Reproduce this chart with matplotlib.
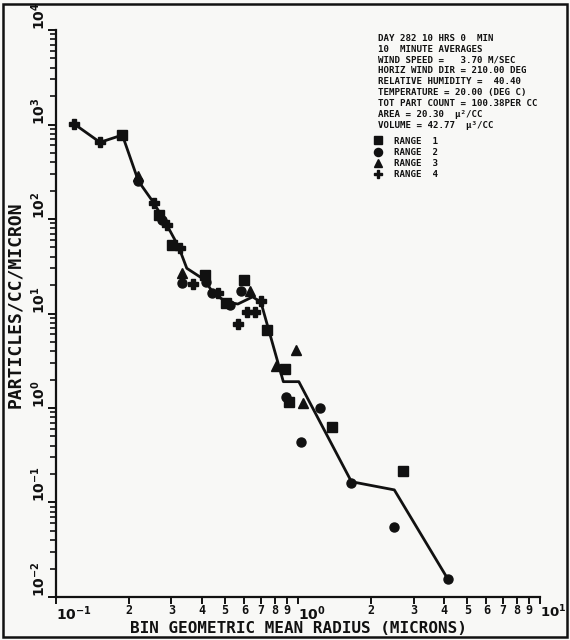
import matplotlib
matplotlib.use("Agg")
import matplotlib.pyplot as plt
from matplotlib.patches import Rectangle
from matplotlib.ticker import FixedLocator, FixedFormatter

# averaged size distribution (solid curve)
line_r = [0.119, 0.152, 0.188, 0.219, 0.254, 0.287, 0.321, 0.347, 0.412, 0.446,
          0.505, 0.564, 0.649, 0.702, 0.869, 1.007, 1.661, 2.497, 4.16]
line_n = [1012, 648, 774, 252, 147, 86.5, 50.9, 30.1, 22.6, 16.4,
          13.3, 12.6, 15.0, 13.2, 1.90, 1.90, 0.166, 0.136, 0.0154]

# individual counter ranges
r1 = [0.188, 0.266, 0.301, 0.412, 0.505, 0.600, 0.742, 0.882, 0.916, 1.377, 2.70]
n1 = [774, 110, 53.1, 25.5, 12.8, 22.6, 6.69, 2.59, 1.15, 0.634, 0.217]
r2 = [0.219, 0.274, 0.331, 0.418, 0.439, 0.521, 0.581, 0.888, 1.233, 1.028, 1.661, 2.495, 4.16]
n2 = [252, 97.6, 21.2, 21.7, 16.4, 12.3, 17.4, 1.32, 1.01, 0.434, 0.162, 0.0546, 0.0154]
r3 = [0.219, 0.333, 0.635, 0.984, 0.813, 1.048]
n3 = [285, 26.6, 17.4, 4.11, 2.80, 1.14]
r4 = [0.119, 0.152, 0.254, 0.287, 0.326, 0.369, 0.467, 0.564, 0.615, 0.663, 0.706]
n4 = [1012, 648, 147, 86.4, 49.0, 20.5, 16.4, 7.69, 10.3, 10.3, 13.6]

range_labels = ["RANGE  1", "RANGE  2", "RANGE  3", "RANGE  4"]

header = [
    "DAY 282 10 HRS 0  MIN",
    "10  MINUTE AVERAGES",
    "WIND SPEED =   3.70 M/SEC",
    "HORIZ WIND DIR = 210.00 DEG",
    "RELATIVE HUMIDITY =  40.40",
    "TEMPERATURE = 20.00 (DEG C)",
    "TOT PART COUNT = 100.38PER CC",
    "AREA = 20.30  \u03bc\u00b2/CC",
    "VOLUME = 42.77  \u03bc\u00b3/CC",
]

x_ticks = [0.1, 0.2, 0.3, 0.4, 0.5, 0.6, 0.7, 0.8, 0.9,
           1, 2, 3, 4, 5, 6, 7, 8, 9, 10]
x_ticklabels = [r"$\mathbf{10^{-1}}$", "2", "3", "4", "5", "6", "7", "8", "9",
                r"$\mathbf{10^{0}}$", "2", "3", "4", "5", "6", "7", "8", "9",
                r"$\mathbf{10^{1}}$"]
y_ticks = [1e-2, 1e-1, 1e0, 1e1, 1e2, 1e3, 1e4]
y_ticklabels = [r"$\mathbf{10^{-2}}$", r"$\mathbf{10^{-1}}$", r"$\mathbf{10^{0}}$",
                r"$\mathbf{10^{1}}$", r"$\mathbf{10^{2}}$", r"$\mathbf{10^{3}}$",
                r"$\mathbf{10^{4}}$"]

ink = "#111111"
mono = "DejaVu Sans Mono"
plt.rcParams["mathtext.fontset"] = "dejavusans"

fig = plt.figure(figsize=(5.7, 6.4), dpi=100, facecolor="#f8f8f6")
ax = fig.add_axes([0.0982, 0.0672, 0.8495, 0.8859])
ax.set_facecolor("none")

ax.plot(line_r, line_n, color=ink, lw=2.0, zorder=2)
ms = 6.5
ax.plot(r1, n1, "s", color=ink, ms=ms, ls="none", label=range_labels[0], zorder=3)
ax.plot(r2, n2, "o", color=ink, ms=ms, ls="none", label=range_labels[1], zorder=3)
ax.plot(r3, n3, "^", color=ink, ms=ms, ls="none", label=range_labels[2], zorder=3)
ax.plot(r4, n4, "P", color=ink, ms=ms, ls="none", label=range_labels[3], zorder=3)

ax.set_xscale("log")
ax.set_yscale("log")
ax.set_xlim(0.1, 10)
ax.set_ylim(1e-2, 1e4)

for side in ("top", "right"):
    ax.spines[side].set_visible(False)
for side in ("left", "bottom"):
    ax.spines[side].set_linewidth(1.6)
    ax.spines[side].set_color(ink)

ax.xaxis.set_major_locator(FixedLocator(x_ticks))
ax.xaxis.set_major_formatter(FixedFormatter(x_ticklabels))
ax.xaxis.set_minor_locator(FixedLocator([]))
ax.tick_params(axis="x", which="major", direction="out", length=5, width=1.4,
               pad=0, labelsize=8.5, colors=ink)
xlabs = ax.get_xticklabels()
for lab in xlabs:
    lab.set_fontweight("bold")
    lab.set_family(mono)
    if lab.get_text().startswith("$"):
        lab.set_fontsize(10)
        lab.set_horizontalalignment("left")
xlabs[-1].set_fontsize(9.5)

ax.yaxis.set_major_locator(FixedLocator(y_ticks))
ax.yaxis.set_major_formatter(FixedFormatter(y_ticklabels))
ax.tick_params(axis="y", which="major", direction="out", length=6, width=1.4,
               pad=0, labelsize=10, colors=ink)
ax.tick_params(axis="y", which="minor", direction="out", length=4, width=1.2,
               colors=ink)
for lab in ax.get_yticklabels():
    lab.set_rotation(90)
    lab.set_verticalalignment("bottom")
    lab.set_horizontalalignment("right")

ax.set_xlabel("BIN GEOMETRIC MEAN RADIUS (MICRONS)", family=mono,
              fontweight="bold", fontsize=11.5, color=ink, labelpad=-1)
ax.set_ylabel("PARTICLES/CC/MICRON", family=mono, fontweight="bold",
              fontsize=13, color=ink)
ax.yaxis.set_label_coords(-0.066, 0.515)

# run header block
ax.text(0.666, 0.993, "\n".join(header), transform=ax.transAxes, family=mono,
        fontweight="bold", fontsize=6.6, va="top", ha="left", linespacing=1.26,
        color=ink)

handles, labels = ax.get_legend_handles_labels()
leg = ax.legend(handles, labels, loc="upper left", bbox_to_anchor=(0.658, 0.812),
                frameon=False, handlelength=0.8, handletextpad=1.3,
                labelspacing=0.25, borderpad=0, borderaxespad=0,
                prop={"family": mono, "weight": "bold", "size": 6.6},
                markerscale=0.9)
for t in leg.get_texts():
    t.set_color(ink)

# page border
fig.patches.append(Rectangle((0.006, 0.005), 0.988, 0.988, transform=fig.transFigure,
                             fill=False, lw=1.8, edgecolor=ink))

fig.savefig("out.png", dpi=100, facecolor=fig.get_facecolor())
